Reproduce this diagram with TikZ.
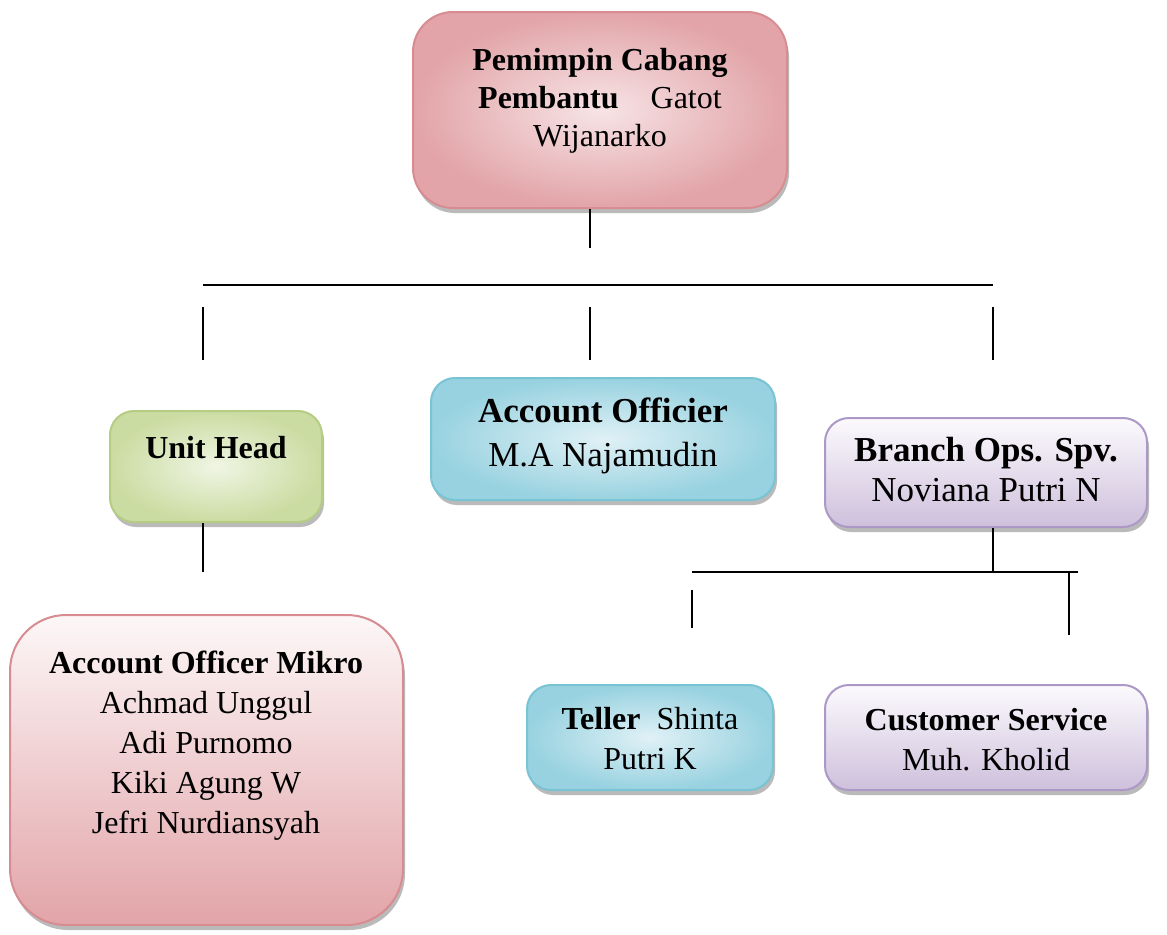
\documentclass[tikz,border=0pt]{standalone}
\usepackage{fontspec}
\setmainfont{Liberation Serif}
\usetikzlibrary{shadows}

\definecolor{pinkline}{RGB}{214,140,145}
\definecolor{pinkdark}{RGB}{226,164,168}
\definecolor{pinklight}{RGB}{247,228,230}
\definecolor{blueline}{RGB}{120,195,212}
\definecolor{bluedark}{RGB}{152,210,224}
\definecolor{bluelight}{RGB}{224,241,246}
\definecolor{greenline}{RGB}{180,205,130}
\definecolor{greendark}{RGB}{203,220,162}
\definecolor{greenlight}{RGB}{240,245,228}
\definecolor{purpline}{RGB}{172,152,198}
\definecolor{purpdark}{RGB}{206,192,220}
\definecolor{purplight}{RGB}{252,250,253}

\tikzset{
	orgbox/.style={rounded corners=#1, line width=1pt,
		drop shadow={shadow xshift=1pt, shadow yshift=-2.5pt, fill=black!45, opacity=0.6}},
	orgbox/.default=12pt,
	pinkbox/.style={orgbox=#1, draw=pinkline, inner color=pinklight, outer color=pinkdark},
	pinkbox/.default=20pt,
	bluebox/.style={orgbox, draw=blueline, inner color=bluelight, outer color=bluedark},
	greenbox/.style={orgbox, draw=greenline, inner color=greenlight, outer color=greendark},
	purpbox/.style={orgbox, draw=purpline, top color=purplight, bottom color=purpdark},
	txt/.style={align=center, font=\fontsize{16}{20}\selectfont},
	link/.style={line width=1pt}
}

\begin{document}
\begin{tikzpicture}[x=0.5pt, y=-0.5pt]
			\useasboundingbox (0,0) rectangle (1167,934);
			
			\node[pinkbox, minimum width=187pt, minimum height=98pt] (boss) at (600,110) {};
			\node[txt, font=\fontsize{16}{19}\selectfont] (bossT) at (600,101) {\textbf{Pemimpin Cabang}\\ \textbf{Pembantu}\quad Gatot\\ Wijanarko};
			
			\node[greenbox, minimum width=106pt, minimum height=55.5pt] (unit) at (216,466.5) {};
			\node[txt] (unitT) at (216,448) {\textbf{Unit Head}};
			
			\node[bluebox, minimum width=172pt, minimum height=61pt] (ao) at (603,439) {};
			\node[txt, font=\fontsize{17.5}{22}\selectfont] (aoT) at (603,436) {\textbf{Account Officier}\\ M.A Najamudin};
			
			\node[purpbox, minimum width=161pt, minimum height=54.5pt] (bos) at (986,472.5) {};
			\node[txt, font=\fontsize{17.5}{20}\selectfont] (bosT) at (986,470) {\textbf{Branch Ops. Spv.}\\ Noviana Putri N};
			
			\node[pinkbox=28pt, top color=pinklight!30!white, bottom color=pinkdark, minimum width=196.5pt, minimum height=155pt] (mikro) at (206.5,770) {};
			\node[txt] (mikroT) at (206,746) {\textbf{Account Officer Mikro}\\ Achmad Unggul\\ Adi Purnomo\\ Kiki Agung W\\ Jefri Nurdiansyah};
			
			\node[bluebox, minimum width=123pt, minimum height=52.5pt] (teller) at (650,737.5) {};
			\node[txt] (tellerT) at (650,739) {\textbf{Teller}\ \ Shinta\\ Putri K};
			
			\node[purpbox, minimum width=161pt, minimum height=52.5pt] (cs) at (986,737.5) {};
			\node[txt] (csT) at (986,740) {\textbf{Customer Service}\\ Muh. Kholid};
			
			\coordinate (bossdrop) at (590,248);
			\draw[link] (boss.south -| bossdrop) -- (bossdrop);
			\coordinate (busL) at (203,285);
			\coordinate (busR) at (993,285);
			\draw[link] (busL) -- (busR);
			\coordinate (unitA) at (203,307);
			\coordinate (unitB) at (203,360);
			\draw[link] (unitA) -- (unitB);
			\coordinate (aoA) at (590,307);
			\coordinate (aoB) at (590,360);
			\draw[link] (aoA) -- (aoB);
			\coordinate (bosA) at (993,307);
			\coordinate (bosB) at (993,360);
			\draw[link] (bosA) -- (bosB);
			
			\coordinate (unitdrop) at (203,572);
			\draw[link] (unit.south -| unitdrop) -- (unitdrop);
			
			\coordinate (bosdrop) at (993,572);
			\draw[link] (bos.south -| bosdrop) -- (bosdrop);
			\coordinate (subL) at (692,572);
			\coordinate (subR) at (1078,572);
			\draw[link] (subL) -- (subR);
			\coordinate (tellerA) at (692,590);
			\coordinate (tellerB) at (692,628);
			\draw[link] (tellerA) -- (tellerB);
			\coordinate (csA) at (1069,572);
			\coordinate (csB) at (1069,635);
			\draw[link] (csA) -- (csB);
		\end{tikzpicture}
\end{document}
